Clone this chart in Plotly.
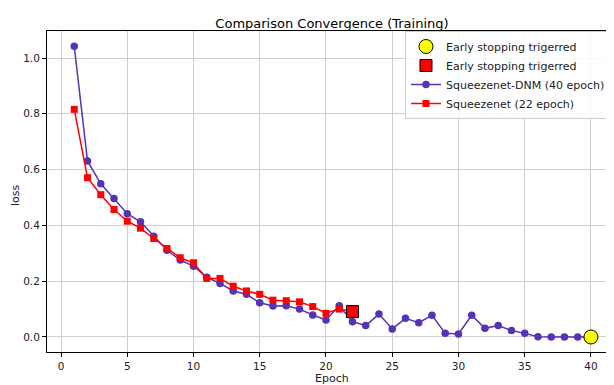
import plotly.graph_objects as go

epochs_dnm = list(range(1, 41))
dnm_loss = [1.042, 0.631, 0.549, 0.496, 0.442, 0.413, 0.361, 0.311, 0.276, 0.254,
            0.214, 0.192, 0.165, 0.153, 0.123, 0.111, 0.112, 0.100, 0.079, 0.061,
            0.112, 0.055, 0.041, 0.082, 0.029, 0.067, 0.051, 0.078, 0.013, 0.011,
            0.078, 0.031, 0.041, 0.023, 0.013, 0.001, 0.000, 0.000, 0.000, 0.000]
epochs_sq = list(range(1, 23))
sq_loss = [0.816, 0.571, 0.510, 0.457, 0.415, 0.390, 0.353, 0.317, 0.284, 0.266,
           0.210, 0.210, 0.182, 0.165, 0.153, 0.132, 0.130, 0.126, 0.109, 0.085,
           0.100, 0.091]

x_ticks = [0, 5, 10, 15, 20, 25, 30, 35, 40]
y_ticks = [0.0, 0.2, 0.4, 0.6, 0.8, 1.0]

PURPLE = "#5633b5"
RED = "#ff0000"
FONT = "DejaVu Sans"
TXT = "#222222"

fig = go.Figure()
fig.add_trace(go.Scatter(
    x=epochs_dnm, y=dnm_loss, mode="lines+markers",
    name="Squeezenet-DNM (40 epoch)",
    line=dict(color=PURPLE, width=1.5),
    marker=dict(symbol="circle", size=7.5, color=PURPLE),
    legendrank=3,
))
fig.add_trace(go.Scatter(
    x=epochs_sq, y=sq_loss, mode="lines+markers",
    name="Squeezenet (22 epoch)",
    line=dict(color=RED, width=1.5),
    marker=dict(symbol="square", size=7, color=RED),
    legendrank=4,
))
fig.add_trace(go.Scatter(
    x=[epochs_dnm[-1]], y=[dnm_loss[-1]], mode="markers",
    name="Early stopping trigerred",
    marker=dict(symbol="circle", size=14, color="#ffff00",
                line=dict(color="black", width=1)),
    legendrank=1,
))
fig.add_trace(go.Scatter(
    x=[epochs_sq[-1]], y=[sq_loss[-1]], mode="markers",
    name="Early stopping trigerred",
    marker=dict(symbol="square", size=12, color=RED,
                line=dict(color="black", width=1)),
    legendrank=2,
))

axis_common = dict(
    showgrid=True, gridcolor="#cfcfcf", gridwidth=1,
    zeroline=False, showline=True, linecolor="black", linewidth=1,
    ticks="outside", ticklen=4, tickcolor="black", automargin=False,
    tickfont=dict(family=FONT, size=10.5, color=TXT),
)

fig.update_layout(
    width=606, height=377,
    margin=dict(l=39, r=0, t=23, b=33, autoexpand=False),
    paper_bgcolor="white", plot_bgcolor="white",
    title=dict(text="Comparison Convergence (Training)", x=324 / 606, xanchor="center",
               y=1 - 15.5 / 377, yanchor="middle",
               font=dict(family=FONT, size=13, color="black")),
    xaxis=dict(range=[-1.057, 41.74], tickvals=x_ticks, mirror=True, **axis_common),
    yaxis=dict(range=[-0.0538, 1.0968], tickvals=y_ticks, tickformat=".1f", mirror=False,
               **axis_common),
    legend=dict(x=0.9947, y=1.0, xanchor="right", yanchor="top",
                bgcolor="rgba(255,255,255,0.85)", bordercolor="#cccccc", borderwidth=1,
                font=dict(family=FONT, size=11, color=TXT),
                tracegroupgap=0, itemsizing="trace"),
    showlegend=True,
    annotations=[
        dict(text="Epoch", xref="paper", yref="paper", x=0.5026, y=-0.0841,
             xanchor="center", yanchor="middle", showarrow=False,
             font=dict(family=FONT, size=11, color=TXT)),
        dict(text="loss", xref="paper", yref="paper", x=-0.0565, y=0.489,
             xanchor="center", yanchor="middle", showarrow=False, textangle=-90,
             font=dict(family=FONT, size=11, color=TXT)),
    ],
)

fig.write_html("out.html")
